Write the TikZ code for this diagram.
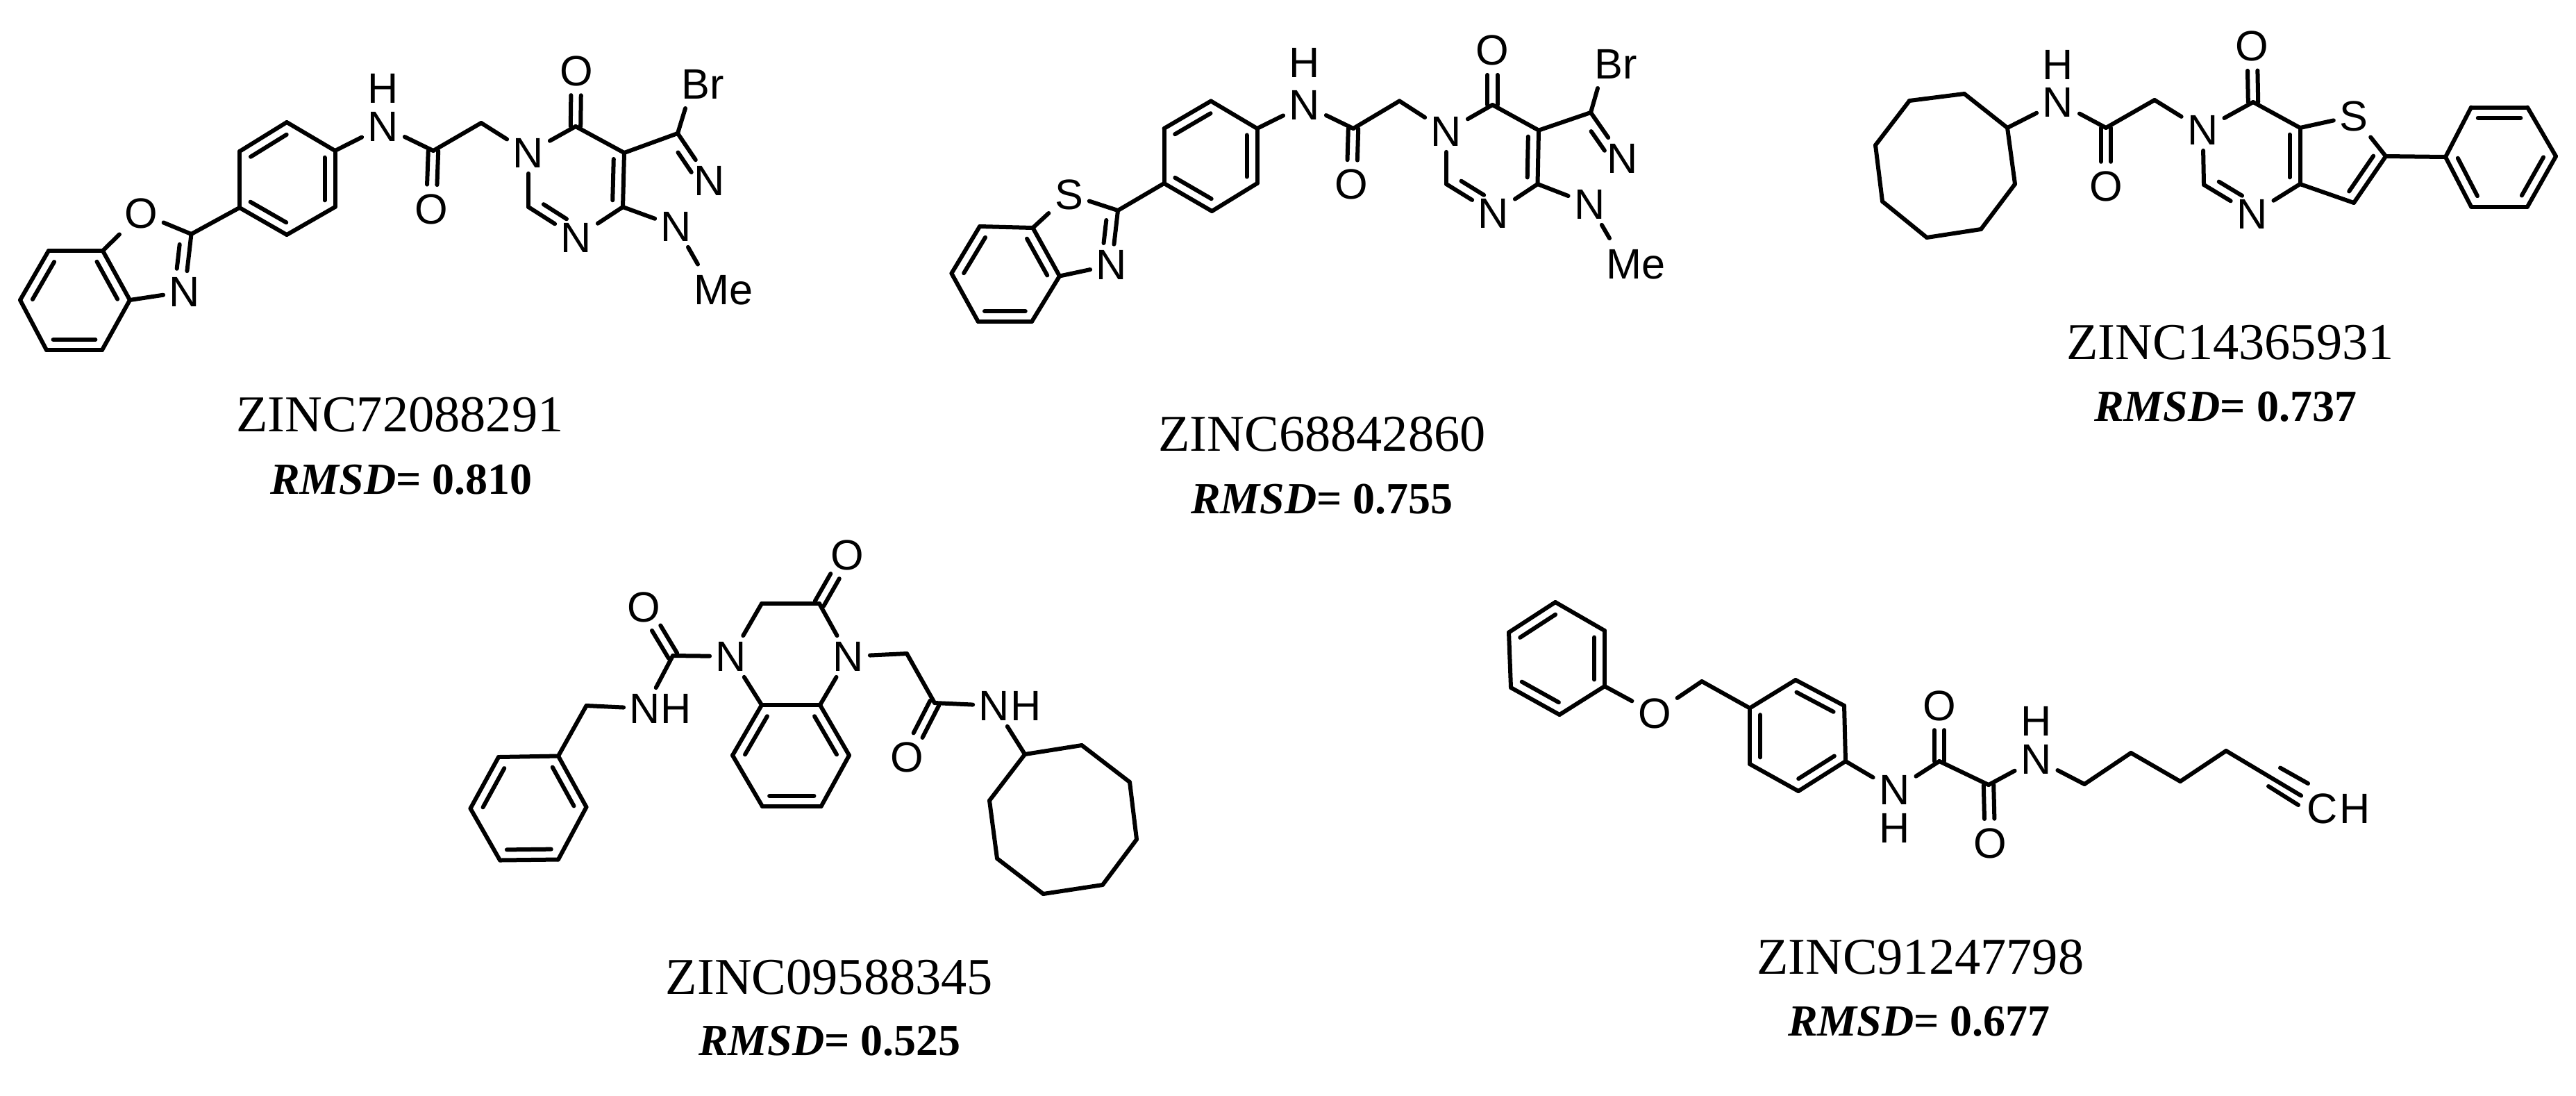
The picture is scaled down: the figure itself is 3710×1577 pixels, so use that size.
\documentclass[tikz,border=0pt]{standalone}
\usepackage{fontspec}
\setmainfont{Liberation Serif}
\newfontfamily\atomfam{Liberation Sans}
\usetikzlibrary{calc}
\newcommand\dbgap{3.75pt}
\newcommand\pt[3]{\coordinate (#1) at (#2,#3);}
\newcommand\dbl[5]{\draw[bond] ($(#1)!#4!(#2)!\dbgap!#3:(#2)$) -- ($(#1)!#5!(#2)!\dbgap!#3:(#2)$);}
\newcommand\cob[2]{\draw[bond] ($(#1)!1.8pt!90:(#2)$) -- ($(#2)!8.8pt!(#1)!1.8pt!-90:(#1)$);
  \draw[bond] ($(#1)!1.8pt!-90:(#2)$) -- ($(#2)!8.8pt!(#1)!1.8pt!90:(#1)$);}
\newcommand\bonds[1]{\foreach \a/\b in {#1} {\draw[bond] (\a) -- (\b);}}
\tikzset{
  bond/.style={line width=1.5pt,line cap=round,line join=round,black},
  atom/.style={font=\atomfam\fontsize{15.3}{15.3}\selectfont,inner sep=2.2pt,outer sep=0pt,text=black},
  zinc/.style={font=\fontsize{18.6}{18.6}\selectfont,anchor=base,inner sep=0pt,text=black},
  rmsd/.style={font=\bfseries\fontsize{16}{16}\selectfont,anchor=base,inner sep=0pt,text=black}
}
\begin{document}
\begin{tikzpicture}[x=0.25pt,y=-0.25pt]
\useasboundingbox (0,0) rectangle (3710,1577);
% ---------- ZINC72088291
\pt{aa}{70}{361}\pt{ab}{148}{361}\pt{ac}{187}{432}\pt{ad}{147}{504}\pt{ae}{67}{504}\pt{af}{29}{432}
\pt{ag}{275.5}{337}
\pt{pa}{345}{299}\pt{pb}{345}{218}\pt{pc}{413}{176}\pt{pd}{482.5}{217}\pt{pe}{482.5}{298}\pt{pf}{413}{338}
\pt{qa}{624}{217}\pt{qb}{693}{177}\pt{qc}{829}{182}\pt{qd}{899}{220}\pt{qe}{897}{298}\pt{qf}{761}{298}\pt{qg}{976}{192}
\pt{aBe}{987}{156}\pt{aMb}{1005}{380.5}
\node[atom] (aO) at (203,307) {O};
\node[atom] (aN) at (266,420) {N};
\node[atom] (aNa) at (552,182) {N};
\node[atom] (aH) at (552,127) {H};
\node[atom] (aOa) at (621,301) {O};
\node[atom] (aNb) at (761,220) {N};
\node[atom] (aOb) at (830,102) {O};
\node[atom] (aNc) at (830,342) {N};
\node[atom] (aBr) at (1012,121) {Br};
\node[atom] (aNd) at (1022,260) {N};
\node[atom] (aNe) at (974,326) {N};
\node[atom] (aMe) at (1042,418) {Me};
\bonds{aa/ab,ab/ac,ac/ad,ad/ae,ae/af,af/aa,ab/aO,aO/ag,ag/aN,aN/ac,ag/pa,pa/pb,pb/pc,pc/pd,pd/pe,pe/pf,pf/pa,pd/aNa,aNa/qa,qa/qb,qb/aNb,aNb/qc,qc/qd,qd/qe,qe/aNc,aNc/qf,qf/aNb,qd/qg,qg/aBe,qg/aNd,qe/aNe,aNe/aMb}
\dbl{ab}{ac}{-90}{.12}{.88}\dbl{ad}{ae}{-90}{.12}{.88}\dbl{af}{aa}{-90}{.12}{.88}
\dbl{pb}{pc}{-90}{.12}{.88}\dbl{pd}{pe}{-90}{.12}{.88}\dbl{pf}{pa}{-90}{.12}{.88}
\dbl{ag}{aN}{-90}{.2}{.62}\dbl{qd}{qe}{-90}{.12}{.88}\dbl{qf}{aNc}{90}{.2}{.68}\dbl{qg}{aNd}{-90}{.28}{.7}
\cob{qa}{aOa}\cob{qc}{aOb}
\node[zinc] (aZ) at (576,621) {ZINC72088291};
\node[rmsd] (aR) at (578,711.5) {\textit{RMSD}= 0.810};
% ---------- ZINC68842860
\pt{ba}{1411}{326}\pt{bb}{1487.5}{328}\pt{bc}{1526}{397.5}\pt{bd}{1486}{463}\pt{be}{1408.7}{463}\pt{bf}{1370.4}{393.6}
\pt{bg}{1610}{303}
\pt{ra}{1676.5}{264}\pt{rb}{1676.5}{185}\pt{rc}{1744}{145.5}\pt{rd}{1810.5}{185}\pt{re}{1810.5}{264}\pt{rf}{1745.4}{304}
\pt{sa}{1949}{185}\pt{sb}{2015.5}{145.4}\pt{sc}{2149.5}{151}\pt{sd}{2216}{187.6}\pt{se}{2214.5}{265}\pt{sf}{2083}{265}\pt{sg}{2291}{162}
\pt{bBe}{2301}{127}\pt{bMb}{2318}{343}
\node[atom] (bS) at (1539.5,280) {S};
\node[atom] (bN) at (1601,381.5) {N};
\node[atom] (bNa) at (1879,151) {N};
\node[atom] (bH) at (1879,90) {H};
\node[atom] (bOa) at (1946.7,265.6) {O};
\node[atom] (bNb) at (2083,189) {N};
\node[atom] (bOb) at (2149.5,72.7) {O};
\node[atom] (bNc) at (2151,307) {N};
\node[atom] (bBr) at (2327,92) {Br};
\node[atom] (bNd) at (2337,228) {N};
\node[atom] (bNe) at (2289.5,294) {N};
\node[atom] (bMe) at (2356,381) {Me};
\bonds{ba/bb,bb/bc,bc/bd,bd/be,be/bf,bf/ba,bb/bS,bS/bg,bg/bN,bN/bc,bg/ra,ra/rb,rb/rc,rc/rd,rd/re,re/rf,rf/ra,rd/bNa,bNa/sa,sa/sb,sb/bNb,bNb/sc,sc/sd,sd/se,se/bNc,bNc/sf,sf/bNb,sd/sg,sg/bBe,sg/bNd,se/bNe,bNe/bMb}
\dbl{bb}{bc}{-90}{.12}{.88}\dbl{bd}{be}{-90}{.12}{.88}\dbl{bf}{ba}{-90}{.12}{.88}
\dbl{rb}{rc}{-90}{.12}{.88}\dbl{rd}{re}{-90}{.12}{.88}\dbl{rf}{ra}{-90}{.12}{.88}
\dbl{bg}{bN}{-90}{.2}{.62}\dbl{sd}{se}{-90}{.12}{.88}\dbl{sf}{bNc}{90}{.2}{.68}\dbl{sg}{bNd}{-90}{.28}{.7}
\cob{sa}{bOa}\cob{sc}{bOb}
\node[zinc] (bZ) at (1904,649.5) {ZINC68842860};
\node[rmsd] (bR) at (1904,739) {\textit{RMSD}= 0.755};
% ---------- ZINC14365931
\pt{ca}{2891}{184}\pt{cb}{2829}{135}\pt{cc}{2750}{145}\pt{cd}{2701}{209}\pt{ce}{2711}{290}\pt{cf}{2775}{342}\pt{cg}{2853}{330}\pt{ch}{2902}{265}
\pt{ta}{3033}{184}\pt{tb}{3103}{144}\pt{tc}{3245}{147}\pt{td}{3312.5}{184}\pt{te}{3312.5}{265}\pt{tf}{3174}{266}\pt{tg}{3436}{225}\pt{th}{3390}{292}
\pt{va}{3522}{226}\pt{vb}{3559}{154.5}\pt{vc}{3640}{154.5}\pt{vd}{3681}{225}\pt{ve}{3640}{297.6}\pt{vf}{3559}{297.6}
\node[atom] (cN) at (2964,147) {N};
\node[atom] (cH) at (2964,93) {H};
\node[atom] (cOa) at (3033,268) {O};
\node[atom] (cNb) at (3172.5,187) {N};
\node[atom] (cOb) at (3243.5,66.5) {O};
\node[atom] (cNc) at (3243.5,308) {N};
\node[atom] (cS) at (3390,167) {S};
\bonds{ca/cb,cb/cc,cc/cd,cd/ce,ce/cf,cf/cg,cg/ch,ch/ca,ca/cN,cN/ta,ta/tb,tb/cNb,cNb/tc,tc/td,td/te,te/cNc,cNc/tf,tf/cNb,td/cS,cS/tg,tg/th,th/te,tg/va,va/vb,vb/vc,vc/vd,vd/ve,ve/vf,vf/va}
\dbl{td}{te}{-90}{.12}{.88}\dbl{tf}{cNc}{90}{.2}{.68}\dbl{tg}{th}{-90}{.12}{.88}
\dbl{vb}{vc}{-90}{.12}{.88}\dbl{vd}{ve}{-90}{.12}{.88}\dbl{vf}{va}{-90}{.12}{.88}
\cob{ta}{cOa}\cob{tc}{cOb}
\node[zinc] (cZ) at (3212,517) {ZINC14365931};
\node[rmsd] (cR) at (3205,606) {\textit{RMSD}= 0.737};
% ---------- ZINC09588345
\pt{da}{1097}{1015}\pt{db}{1181}{1015}\pt{dc}{1223}{1087.5}\pt{dd}{1182.6}{1161}\pt{de}{1098}{1161}\pt{df}{1055}{1087.5}
\pt{dg}{1180}{869}\pt{dh}{1097}{869}
\pt{ua}{969}{944}\pt{ub}{844.5}{1016}
\pt{wa}{804}{1088.5}\pt{wb}{844.5}{1162}\pt{wc}{804}{1237.5}\pt{wd}{720}{1238.5}\pt{we}{677.5}{1164}\pt{wf}{718}{1090}
\pt{xa}{1306}{941}\pt{xb}{1346}{1012}
\pt{ya}{1476}{1086}\pt{yb}{1558}{1073}\pt{yc}{1627}{1126}\pt{yd}{1637}{1208.5}\pt{ye}{1588}{1274}\pt{yf}{1502.5}{1287}\pt{yg}{1436}{1236}\pt{yh}{1425}{1152.6}
\node[atom] (dO) at (1220,799) {O};
\node[atom] (dNa) at (1222,945) {N};
\node[atom] (dNb) at (1053,945) {N};
\node[atom] (dOa) at (927,874) {O};
\node[atom] (dNc) at (929,1020) {N};
\node[atom] (dHa) at (974,1020) {H};
\node[atom] (dOb) at (1306,1090) {O};
\node[atom] (dNd) at (1432,1016) {N};
\node[atom] (dHb) at (1478,1016) {H};
\bonds{da/db,db/dc,dc/dd,dd/de,de/df,df/da,dNa/db,dNb/da,dg/dh,dg/dNa,dh/dNb,dNb/ua,ua/dNc,dNc/ub,ub/wa,wa/wb,wb/wc,wc/wd,wd/we,we/wf,wf/wa,dNa/xa,xa/xb,xb/dNd,dNd/ya,ya/yb,yb/yc,yc/yd,yd/ye,ye/yf,yf/yg,yg/yh,yh/ya}
\dbl{db}{dc}{-90}{.12}{.88}\dbl{dd}{de}{-90}{.12}{.88}\dbl{df}{da}{-90}{.12}{.88}
\dbl{wa}{wb}{-90}{.12}{.88}\dbl{wc}{wd}{-90}{.12}{.88}\dbl{we}{wf}{-90}{.12}{.88}
\cob{dg}{dO}\cob{ua}{dOa}\cob{xb}{dOb}
\node[zinc] (dZ) at (1194.5,1431.6) {ZINC09588345};
\node[rmsd] (dR) at (1195,1519.6) {\textit{RMSD}= 0.525};
% ---------- ZINC91247798
\pt{ea}{2240}{867}\pt{eb}{2311}{908}\pt{ec}{2311}{988}\pt{ed}{2246}{1029}\pt{ee}{2176}{990}\pt{ef}{2173}{910.5}
\pt{eg}{2451}{981}
\pt{fa}{2520}{1019.5}\pt{fb}{2586}{979}\pt{fc}{2656}{1016}\pt{fd}{2658}{1096}\pt{fe}{2590}{1139}\pt{ff}{2520}{1100}
\pt{ga}{2793}{1096}\pt{gb}{2864}{1130}\pt{gc}{3002}{1129}\pt{gd}{3069}{1084}\pt{ge}{3140}{1125}\pt{gf}{3206}{1081}
\pt{ta1}{3284}{1105.5}\pt{ta2}{3324}{1128}\pt{tb1}{3267}{1132}\pt{tb2}{3310}{1159}
\node[atom] (eO) at (2383,1027) {O};
\node[atom] (eNa) at (2728.5,1137.5) {N};
\node[atom] (eHa) at (2728.5,1192.5) {H};
\node[atom] (eOa) at (2793,1016) {O};
\node[atom] (eOb) at (2866,1214) {O};
\node[atom] (eNb) at (2932.5,1093) {N};
\node[atom] (eHb) at (2932.5,1038) {H};
\node[atom] (eC) at (3345,1164) {C};
\node[atom] (eH) at (3392,1164) {H};
\bonds{ea/eb,eb/ec,ec/ed,ed/ee,ee/ef,ef/ea,ec/eO,eO/eg,eg/fa,fa/fb,fb/fc,fc/fd,fd/fe,fe/ff,ff/fa,fd/eNa,eNa/ga,ga/gb,gb/eNb,eNb/gc,gc/gd,gd/ge,ge/gf,gf/eC,ta1/ta2,tb1/tb2}
\dbl{ef}{ea}{-90}{.12}{.88}\dbl{eb}{ec}{-90}{.12}{.88}\dbl{ed}{ee}{-90}{.12}{.88}
\dbl{fb}{fc}{-90}{.12}{.88}\dbl{fd}{fe}{-90}{.12}{.88}\dbl{ff}{fa}{-90}{.12}{.88}
\cob{ga}{eOa}\cob{gb}{eOb}
\node[zinc] (eZ) at (2765.6,1402.6) {ZINC91247798};
\node[rmsd] (eR) at (2764,1491) {\textit{RMSD}= 0.677};
\end{tikzpicture}
\end{document}
